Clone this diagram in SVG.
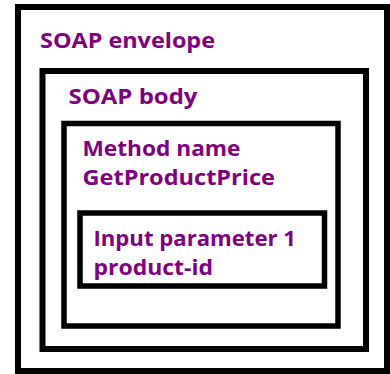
<svg xmlns="http://www.w3.org/2000/svg" width="390" height="374" viewBox="0 0 390 374">
  <style>
    .box { fill: #ffffff; stroke: #000000; stroke-width: 6; }
    .lbl { font-family: "Open Sans", "DejaVu Sans", sans-serif; font-weight: bold; font-size: 20.5px; fill: #800080; }
  </style>
  <rect x="0" y="0" width="390" height="374" fill="#ffffff"/>
  <g id="soap-envelope">
    <rect class="box" x="18" y="7" width="369" height="364"/>
    <text class="lbl" x="40" y="47.5" textLength="175" lengthAdjust="spacingAndGlyphs">SOAP envelope</text>
  </g>
  <g id="soap-body">
    <rect class="box" x="42.5" y="71" width="323.5" height="278"/>
    <text class="lbl" x="68.5" y="103.5" textLength="129" lengthAdjust="spacingAndGlyphs">SOAP body</text>
  </g>
  <g id="method">
    <rect class="box" x="64" y="123.5" width="274" height="202.5" style="stroke-width:5.5"/>
    <text class="lbl" x="82.5" y="156" textLength="158" lengthAdjust="spacingAndGlyphs">Method name</text>
    <text class="lbl" x="82.5" y="184.5" textLength="192.5" lengthAdjust="spacingAndGlyphs">GetProductPrice</text>
  </g>
  <g id="input-parameter">
    <rect class="box" x="80" y="213" width="244.5" height="73" style="stroke-width:5.5"/>
    <text class="lbl" x="93.5" y="246" textLength="202.5" lengthAdjust="spacingAndGlyphs">Input parameter 1</text>
    <text class="lbl" x="93.5" y="274.5" textLength="119.5" lengthAdjust="spacingAndGlyphs">product-id</text>
  </g>
  <g id="connectors"/>
</svg>
